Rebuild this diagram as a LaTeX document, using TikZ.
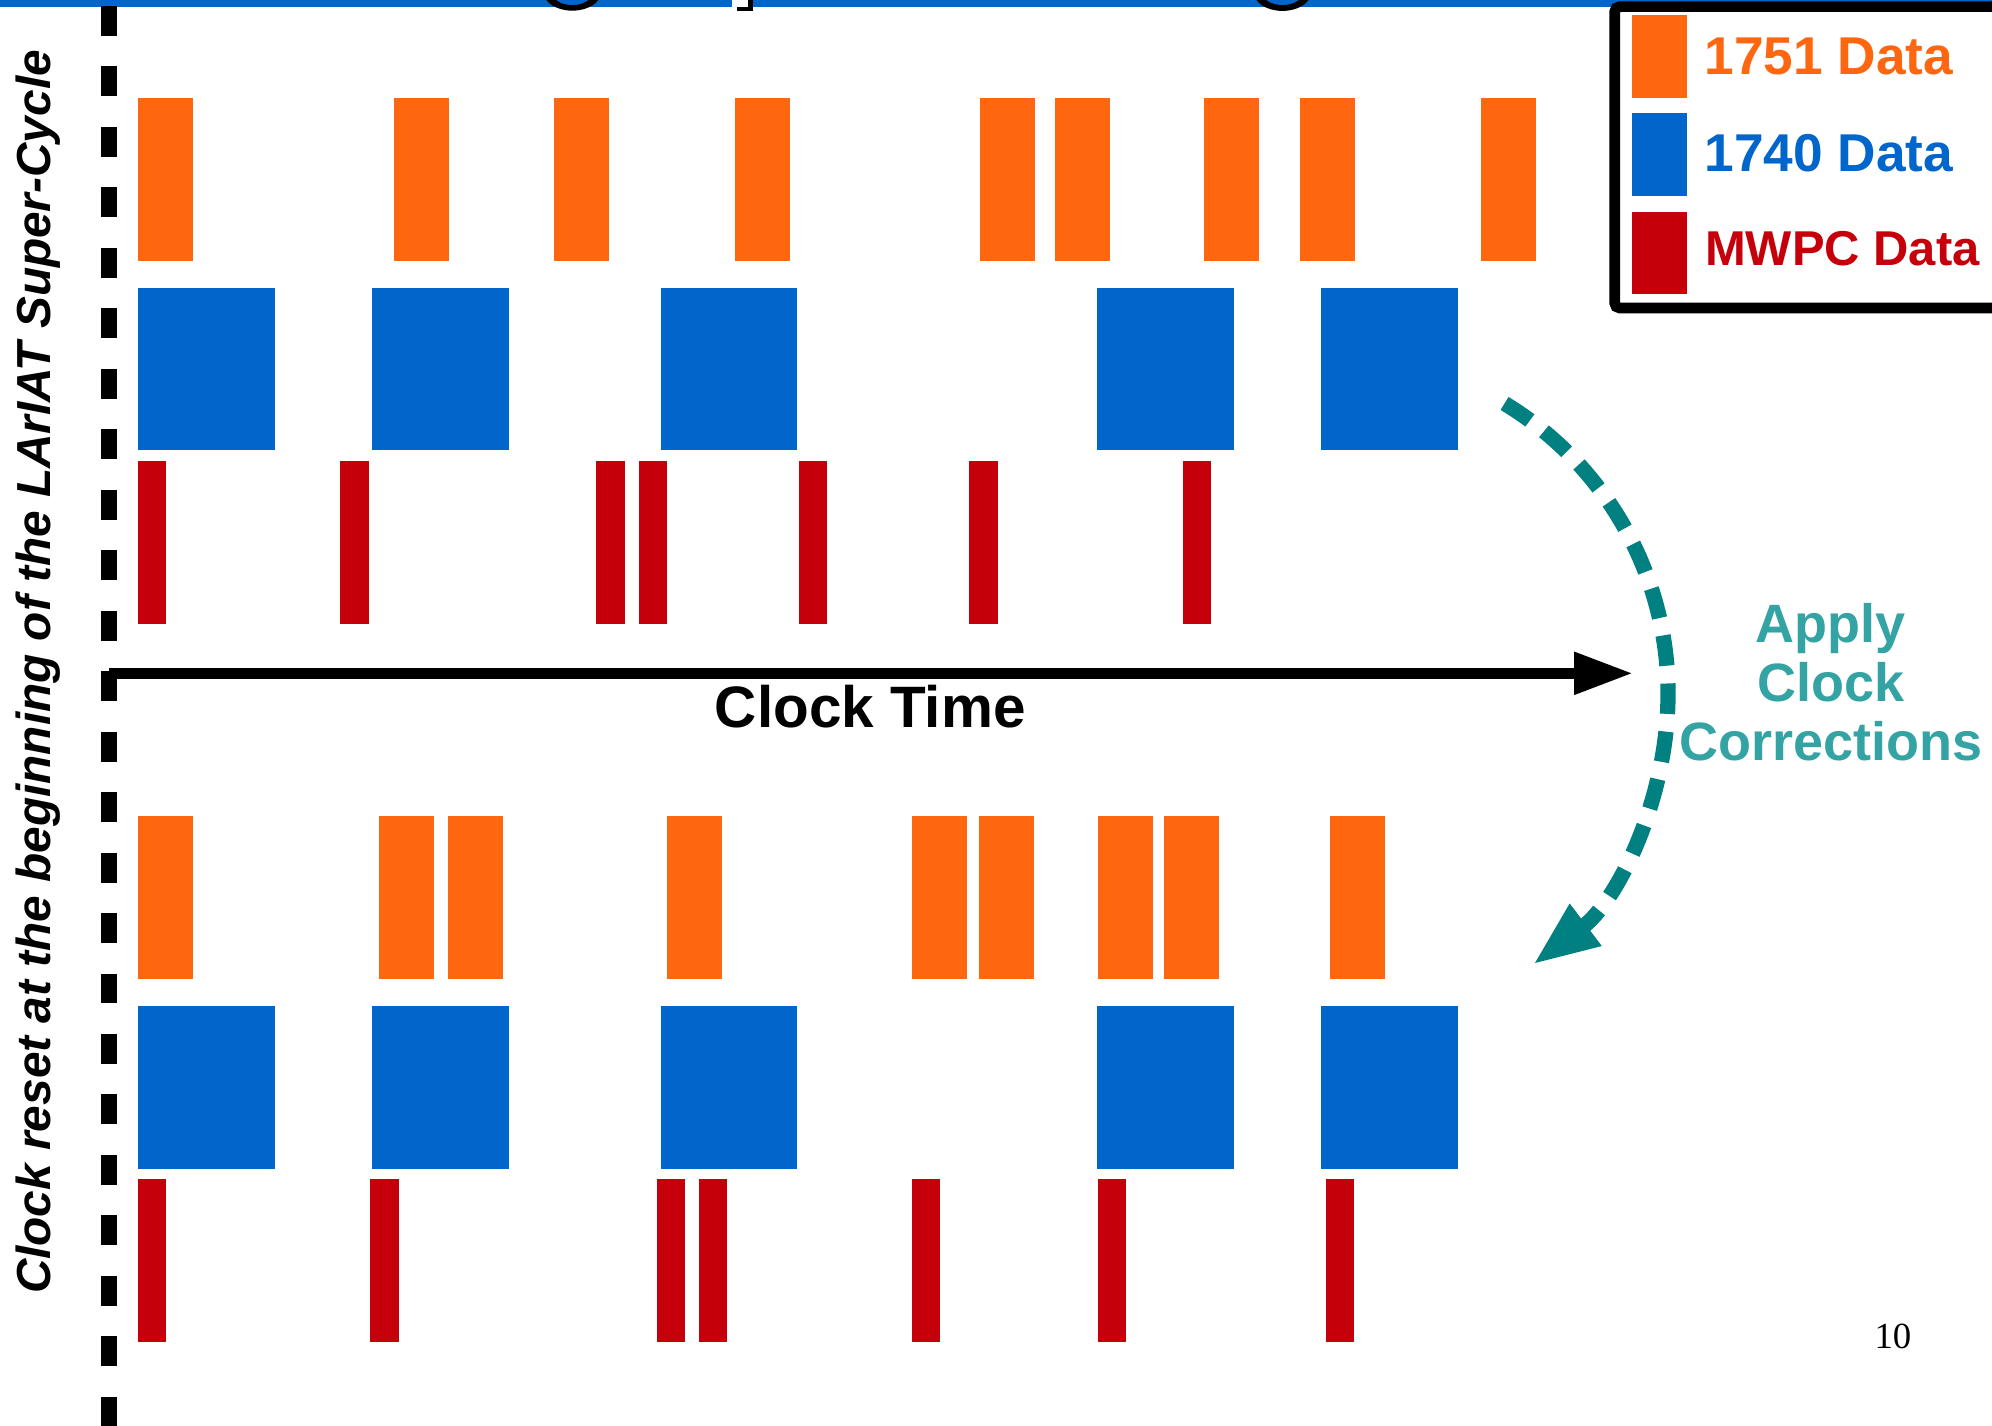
\documentclass[tikz,border=0pt]{standalone}
\usepackage{fontspec}
\setmainfont{Liberation Sans}
\newfontfamily\pagenumfont{Liberation Serif}
\usetikzlibrary{arrows.meta}
\definecolor{c1751}{HTML}{FF6610}
\definecolor{c1740}{HTML}{0066CC}
\definecolor{cmwpc}{HTML}{C5000B}
\definecolor{tealdark}{HTML}{008080}
\definecolor{teallight}{HTML}{33A3A3}
\begin{document}
\begin{tikzpicture}[x=0.5pt,y=-0.5pt,
  resetline/.style={line width=6.15pt,dash pattern=on 11.8pt off 12pt},
  axisarrow/.style={line width=4.5pt,-{Triangle[length=23.25pt,width=15.75pt]}},
  corrarrow/.style={tealdark,line width=6pt,dash pattern=on 12pt off 7pt,
    -{Triangle[length=26pt,width=19pt]}},
  legtext/.style={anchor=base west,inner sep=0pt,font=\bfseries\fontsize{20.95}{24}\selectfont},
  glyphbit/.style={black}
]
\clip (0,0) rectangle (1568,1122);
\fill[white] (0,0) rectangle (1568,1122);

% banner rule along the top edge, with the descenders of the clipped title
\fill[c1740] (0,0) rectangle (1568,5.2);
\fill[glyphbit,even odd rule] (450.5,-6) ellipse[x radius=22.5,y radius=14.4]
  (450.5,-6) ellipse[x radius=16,y radius=10];
\fill[glyphbit,even odd rule] (1009.5,-6) ellipse[x radius=22.5,y radius=14.6]
  (1009.5,-6) ellipse[x radius=16,y radius=10];
\fill[white] (576,0) rectangle (589,5.2);
\fill[glyphbit] (589,0) rectangle (593,8.7);
\fill[glyphbit] (580,5.2) rectangle (593,8.7);

% clock reset marker
\coordinate (resettop) at (85.6,4.7);
\coordinate (resetbot) at (85.6,1130);
\draw[resetline] (resettop) -- (resetbot);

% clock time axis
\coordinate (axisstart) at (85.6,530);
\coordinate (axisend) at (1285.5,530);
\draw[axisarrow] (axisstart) -- (axisend);
\node[anchor=base,inner sep=0pt,font=\bfseries\fontsize{23}{27}\selectfont] (clocktime) at (685,573) {Clock Time};

% raw time stamps
\foreach \x in {108.6,310,436,578.6,771.5,830.3,947.8,1023.2,1166}
  \fill[c1751] (\x,77.2) rectangle ++(43.4,128.3);
\foreach \x in {108.6,293,520,863.5,1040}
  \fill[c1740] (\x,226.5) rectangle ++(107.5,128);
\foreach \x in {108.6,268,469.5,503,629,763,931}
  \fill[cmwpc] (\x,363) rectangle ++(22.2,128);

% corrected time stamps
\foreach \x in {108.6,298.3,352.5,525,718,770.5,864,916,1047}
  \fill[c1751] (\x,642.2) rectangle ++(43.4,128.3);
\foreach \x in {108.6,293,520,863.5,1040}
  \fill[c1740] (\x,791.5) rectangle ++(107.5,128.5);
\foreach \x in {108.6,291.5,517,550.3,718,864,1043.5}
  \fill[cmwpc] (\x,928) rectangle ++(22.2,128);

% correction step
\coordinate (arcstart) at (1184.3,317.6);
\draw[corrarrow] (arcstart) arc[start angle=-58.8,end angle=53,radius=267];
\node[align=center,inner sep=0pt,text=teallight,
  font=\bfseries\fontsize{21.25}{23.2}\selectfont] (corr) at (1441,537.3)
  {Apply\\Clock\\Corrections};

% legend
\draw[line width=4.2pt,rounded corners=2pt,fill=white] (1271,5.25) rectangle (1640,242.5);
\fill[c1751] (1284.9,11.8) rectangle (1328.2,76.9);
\fill[c1740] (1284.9,89.2) rectangle (1328.2,154.3);
\fill[cmwpc] (1284.9,166.6) rectangle (1328.2,231.4);
\node[legtext,text=c1751] (leg1751) at (1341.5,58.3) {1751 Data};
\node[legtext,text=c1740] (leg1740) at (1341.5,134.8) {1740 Data};
\node[legtext,text=cmwpc,font=\bfseries\fontsize{19.25}{23}\selectfont] (legmwpc) at (1341.8,209.1) {MWPC Data};

% side label
\node[anchor=base,rotate=90,inner sep=0pt,font=\bfseries\itshape\fontsize{18.8}{22}\selectfont]
  (resetlabel) at (40,529) {Clock reset at the beginning of the LArIAT Super-Cycle};

% page number
\node[anchor=base,inner sep=0pt,font=\pagenumfont\fontsize{14.5}{17}\selectfont] (pagenum) at (1490,1061.4) {10};
\end{tikzpicture}
\end{document}
